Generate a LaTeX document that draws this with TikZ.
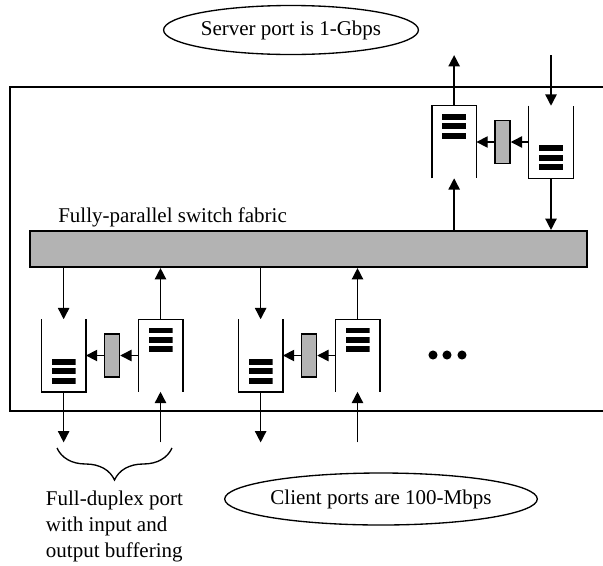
\documentclass[tikz,border=0pt]{standalone}
\usepackage{fontspec}
\setmainfont{Liberation Serif}
\usepackage{tikz}
\usetikzlibrary{positioning,arrows.meta,calc,shapes.geometric,decorations.pathreplacing}
\definecolor{fabgray}{RGB}{179,179,179}
\tikzset{
  txt/.style   ={font=\fontsize{15.75}{19.5}\selectfont, inner sep=0pt},
  oval/.style  ={txt, ellipse, draw, line width=1pt},
  fabric/.style={draw, fill=fabgray, line width=1.6pt, minimum width=417.75pt,
                 minimum height=27pt, inner sep=0pt},
  queue/.style ={minimum width=33pt, minimum height=54pt, inner sep=0pt},
  gate/.style  ={draw, fill=fabgray, line width=1pt, minimum width=11.25pt,
                 minimum height=32.25pt, inner sep=0pt},
  bars/.style  ={minimum width=18pt, minimum height=18.5pt, inner sep=0pt,
                 path picture={\foreach \k in {0,1,2}
                   \fill ($(path picture bounding box.north west)+(0pt,-\k*7.1pt)$)
                     rectangle ++(18pt,-4.3pt);}},
  cup/.style   ={line width=1.1pt},
  ar/.style    ={-{Triangle[length=8.5pt,width=8.5pt]}, line width=1.1pt},
}
\begin{document}
\begin{tikzpicture}[x=0.75pt, y=-0.75pt, node distance=13.5pt]
\useasboundingbox (0,0) rectangle (603,565);
% switch box, its right side runs off the page
\draw[line width=1.1pt] (603,87) -- (10,87) -- (10,411) -- (603,411);

\node[oval, minimum width=188.25pt, minimum height=36.75pt] (srv) at (291,30) {Server port is 1-Gbps};
\node[oval, minimum width=222.75pt, minimum height=39pt] (cli) at (381,499) {Client ports are 100-Mbps};

\node[fabric] (fab) at (308.5,249) {};
\node[txt, anchor=base west] (fablbl) at (58,222) {Fully-parallel switch fabric};

% server port
\node[queue] (sin) at (551,142) {};
\node[gate, left=of sin] (sgate) {};
\node[queue, left=of sgate] (sout) {};
\node[bars, below=6pt of sout.north] (soutb) {};
\node[bars, above=6pt of sin.south] (sinb) {};
\draw[cup] (sout.south west) |- (sout.north east) -- (sout.south east);
\draw[cup] (sin.north west) |- (sin.south east) -- (sin.north east);
\coordinate[above=38pt of sout.north] (srvtx);
\coordinate[above=38pt of sin.north] (srvrx);
\draw[ar] (sin.west) -- (sgate.east); \draw[ar] (sgate.west) -- (sout.east);
\draw[ar] (sout.north) -- (srvtx); \draw[ar] (srvrx) -- (sin.north);
\draw[ar] (sout.south |- fab.north) -- (sout.south);
\draw[ar] (sin.south) -- (sin.south |- fab.north);

% client port 1
\node[queue] (pin1) at (160.5,355.5) {};
\node[gate, left=of pin1] (pgate1) {};
\node[queue, left=of pgate1] (pout1) {};
\node[bars, above=6pt of pout1.south] (poutb1) {};
\node[bars, below=6pt of pin1.north] (pinb1) {};
\draw[cup] (pout1.north west) |- (pout1.south east) -- (pout1.north east);
\draw[cup] (pin1.south west) |- (pin1.north east) -- (pin1.south east);
\coordinate[below=38pt of pout1.south] (cltx1);
\coordinate[below=38pt of pin1.south] (clrx1);
\draw[ar] (pin1.west) -- (pgate1.east); \draw[ar] (pgate1.west) -- (pout1.east);
\draw[ar] (pout1.north |- fab.south) -- (pout1.north);
\draw[ar] (pin1.north) -- (pin1.north |- fab.south);
\draw[ar] (pout1.south) -- (cltx1); \draw[ar] (clrx1) -- (pin1.south);

% client port 2
\node[queue] (pin2) at (357.5,355.5) {};
\node[gate, left=of pin2] (pgate2) {};
\node[queue, left=of pgate2] (pout2) {};
\node[bars, above=6pt of pout2.south] (poutb2) {};
\node[bars, below=6pt of pin2.north] (pinb2) {};
\draw[cup] (pout2.north west) |- (pout2.south east) -- (pout2.north east);
\draw[cup] (pin2.south west) |- (pin2.north east) -- (pin2.south east);
\coordinate[below=38pt of pout2.south] (cltx2);
\coordinate[below=38pt of pin2.south] (clrx2);
\draw[ar] (pin2.west) -- (pgate2.east); \draw[ar] (pgate2.west) -- (pout2.east);
\draw[ar] (pout2.north |- fab.south) -- (pout2.north);
\draw[ar] (pin2.north) -- (pin2.north |- fab.south);
\draw[ar] (pout2.south) -- (cltx2); \draw[ar] (clrx2) -- (pin2.south);

% more ports
\foreach \x in {433,447,462} \fill (\x,355) circle (3.4pt);

% brace and caption under port 1
\coordinate (bl) at (57,448);
\coordinate (br) at (172,448);
\draw[line width=1pt, decorate, decoration={brace, amplitude=24pt}] (br) -- (bl);
\node[txt, align=left, anchor=north] (duplex) at (114.5,491) {Full-duplex port\\with input and\\output buffering};
\end{tikzpicture}
\end{document}
